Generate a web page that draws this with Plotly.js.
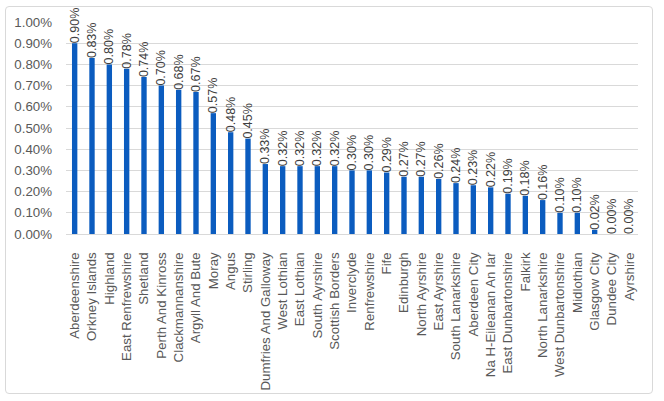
<!DOCTYPE html>
<html>
<head>
<meta charset="utf-8">
<script src="https://cdn.plot.ly/plotly-3.0.1.min.js"></script>
<style>
  html, body { margin: 0; padding: 0; background: #ffffff; }
  #wrap { position: relative; width: 664px; height: 401px; }
  #frame { position: absolute; left: 5px; top: 6px; width: 648px; height: 388px;
           border: 1px solid #d9d9d9; border-radius: 4px; box-sizing: border-box; pointer-events: none; }
  #chart { position: absolute; left: 0; top: 0; width: 664px; height: 401px; }
</style>
</head>
<body>
<div id="wrap">
  <div id="chart"></div>
  <div id="frame"></div>
</div>
<script>
const categories = [
  "Aberdeenshire", "Orkney Islands", "Highland", "East Renfrewshire", "Shetland",
  "Perth And Kinross", "Clackmannanshire", "Argyll And Bute", "Moray", "Angus",
  "Stirling", "Dumfries And Galloway", "West Lothian", "East Lothian", "South Ayrshire",
  "Scottish Borders", "Inverclyde", "Renfrewshire", "Fife", "Edinburgh",
  "North Ayrshire", "East Ayrshire", "South Lanarkshire", "Aberdeen City", "Na H-Eileanan An Iar",
  "East Dunbartonshire", "Falkirk", "North Lanarkshire", "West Dunbartonshire", "Midlothian",
  "Glasgow City", "Dundee City", "Ayrshire"
];
const valuesPct = [
  0.90, 0.83, 0.80, 0.78, 0.74,
  0.70, 0.68, 0.67, 0.57, 0.48,
  0.45, 0.33, 0.32, 0.32, 0.32,
  0.32, 0.30, 0.30, 0.29, 0.27,
  0.27, 0.26, 0.24, 0.23, 0.22,
  0.19, 0.18, 0.16, 0.10, 0.10,
  0.02, 0.00, 0.00
];
const yTickVals = [0, 0.1, 0.2, 0.3, 0.4, 0.5, 0.6, 0.7, 0.8, 0.9, 1.0];

const font = "'Liberation Sans', Arial, sans-serif";

Plotly.newPlot('chart', [{
  type: 'bar',
  x: categories,
  y: valuesPct,
  marker: { color: '#0b5cbf' },
  text: valuesPct.map(v => v.toFixed(2) + '%'),
  textposition: 'outside',
  textangle: -90,
  constraintext: 'none',
  textfont: { family: font, size: 12.5, color: '#404040' },
  cliponaxis: false,
  hoverinfo: 'none'
}], {
  width: 664, height: 401,
  margin: { l: 66, r: 26, t: 22, b: 167 },
  paper_bgcolor: '#ffffff',
  plot_bgcolor: '#ffffff',
  bargap: 0.69,
  showlegend: false,
  font: { family: font, color: '#595959' },
  xaxis: {
    type: 'category',
    tickangle: -90,
    tickfont: { family: font, size: 13.3, color: '#595959' },
    showline: true, linecolor: '#d9d9d9', linewidth: 1,
    ticks: '', showgrid: false,
    ticklabelstandoff: 12,
    automargin: false
  },
  yaxis: {
    range: [0, 1.0],
    tickvals: yTickVals,
    ticktext: yTickVals.map(v => v.toFixed(2) + '%'),
    tickfont: { family: font, size: 13.3, color: '#595959' },
    gridcolor: '#d9d9d9', gridwidth: 1,
    zeroline: false,
    showline: false,
    ticks: '',
    ticklabelstandoff: 13,
    automargin: false
  }
}, { staticPlot: true, displayModeBar: false });
</script>
</body>
</html>
